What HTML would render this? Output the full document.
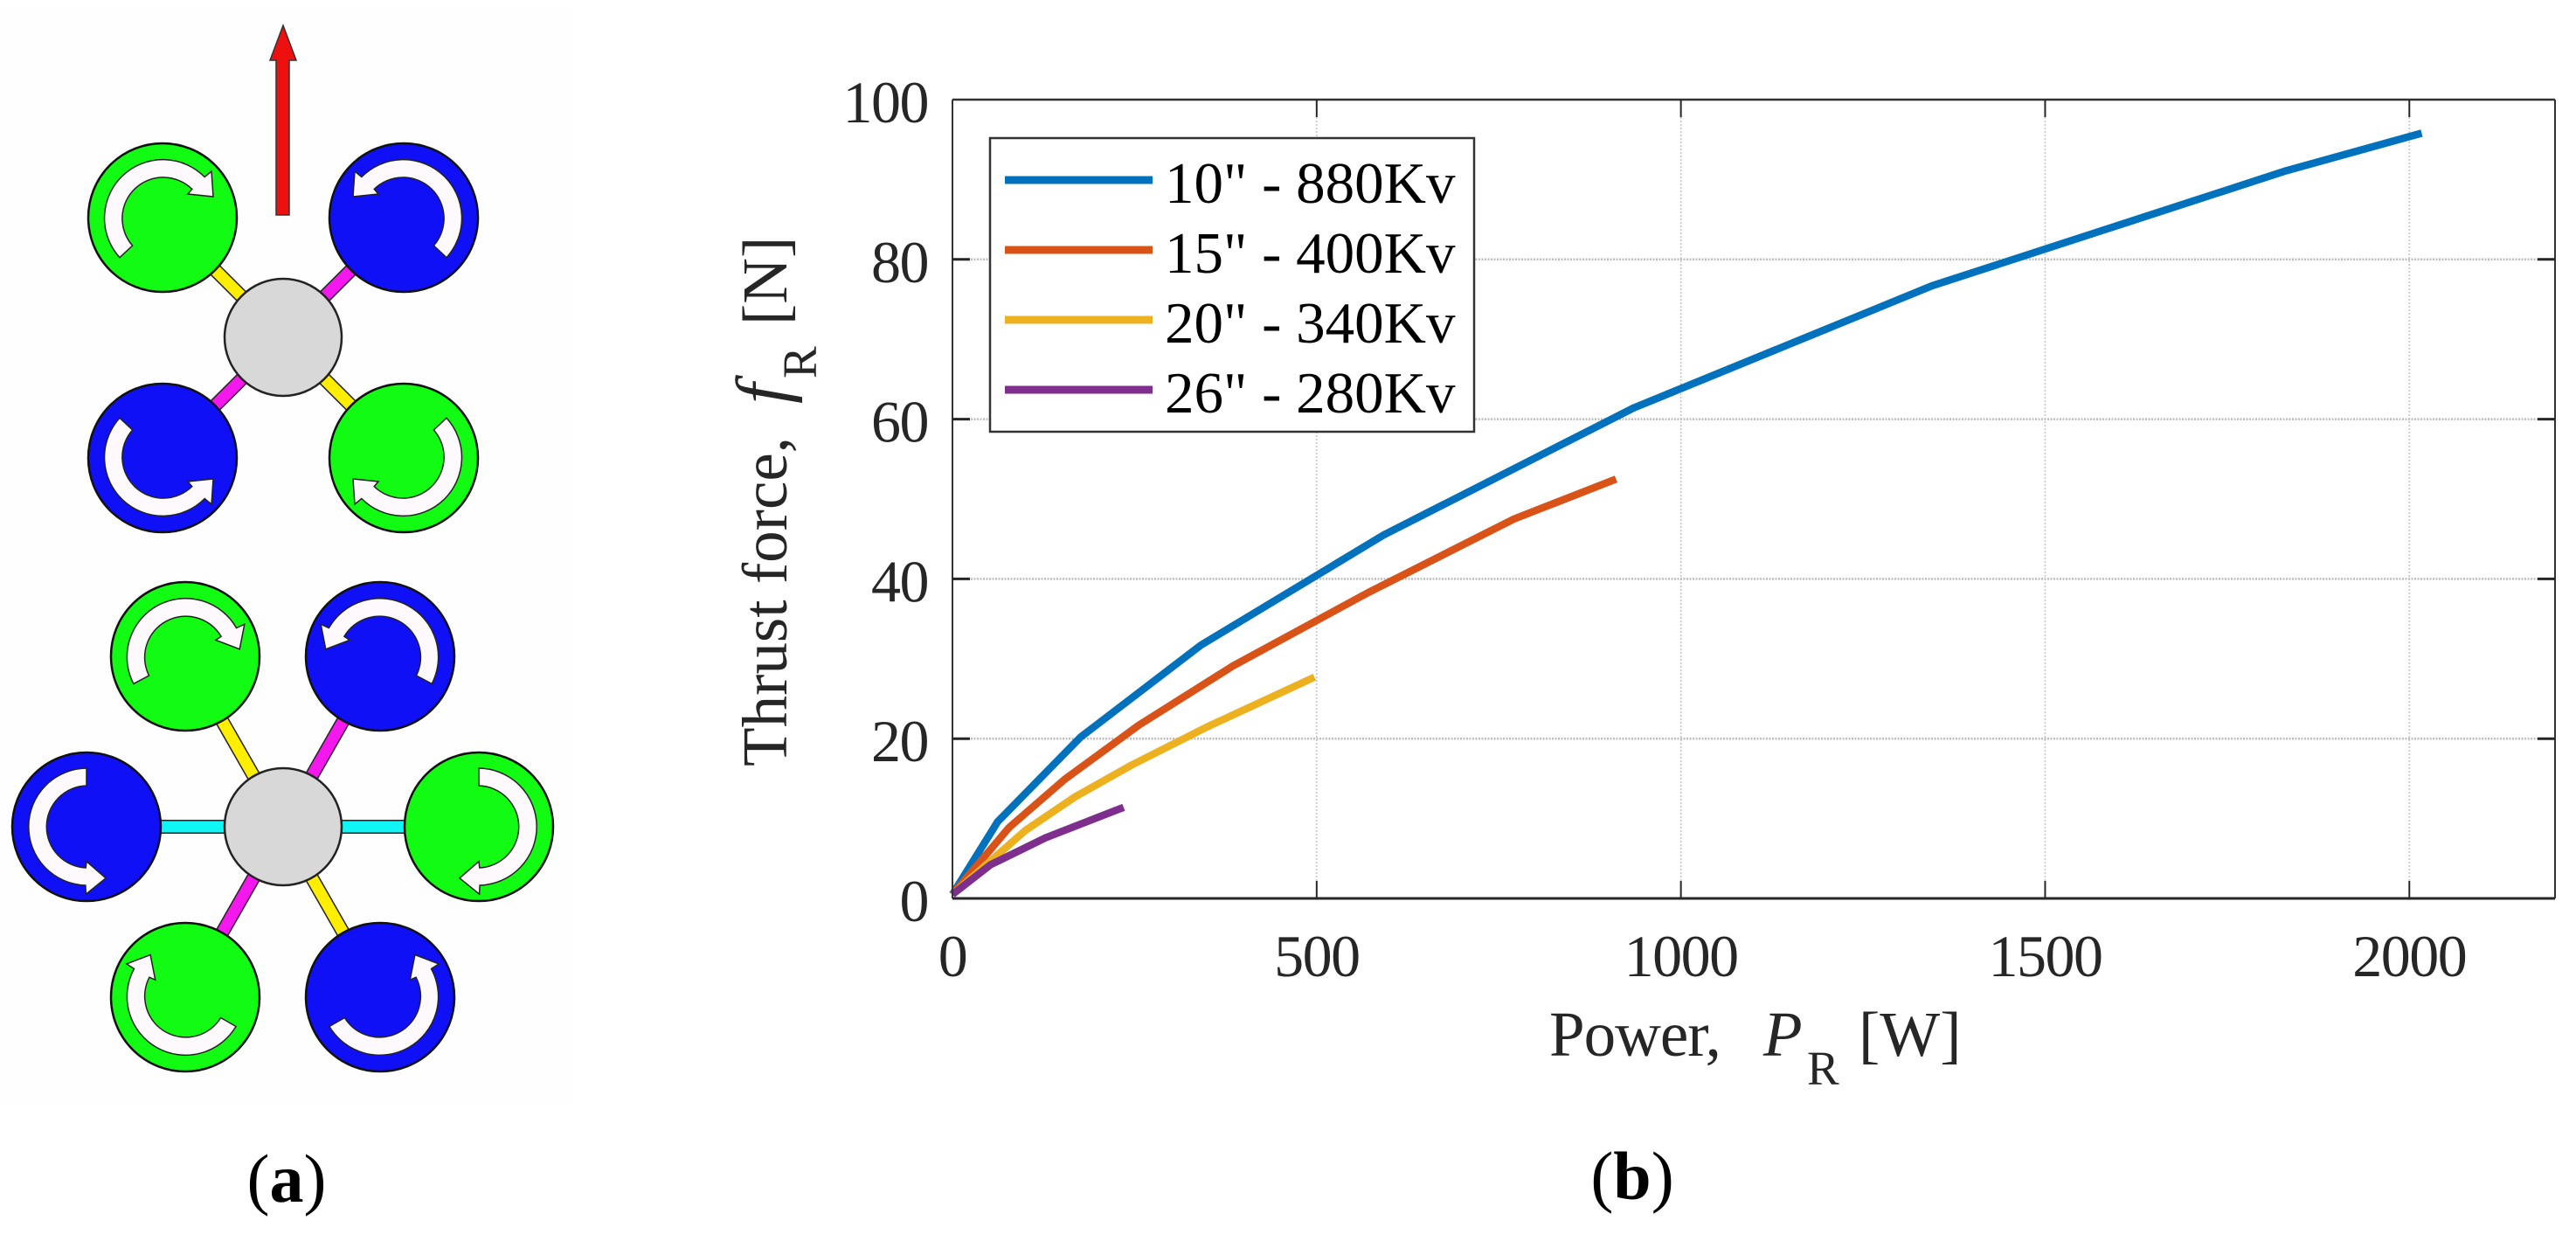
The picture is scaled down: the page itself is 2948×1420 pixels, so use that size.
<!DOCTYPE html>
<html lang="en">
<head>
<meta charset="utf-8">
<title>Multirotor layouts and thrust versus power</title>
<style>
html,body{margin:0;padding:0;background:#fff;}
svg{display:block;font-family:"Liberation Serif",serif;}
</style>
</head>
<body>
<svg id="fig" xmlns="http://www.w3.org/2000/svg" width="2948" height="1420" viewBox="0 0 2948 1420">
  <defs>
    <path id="spin" d="M-49 45.7A67 67 0 0 1 48.2 -46.5L56 -53L58 -24L29 -27L33.8 -32.6A47 47 0 0 0 -34.4 32Z" fill="#fdf9fc" stroke="#222" stroke-width="1.5"/>
  </defs>
  <rect width="2948" height="1420" fill="#fff"/>

  <g id="panel-a">
    <rect x="0" y="10" width="658" height="1252" fill="#fefefe"/>
    <g>
      <path d="M316 246V69H309L324 29L339 69H331V246Z" fill="#ee0f0f" stroke="#333" stroke-width="1.5"/>
    </g>

    <g>
      <g>
        <line x1="186" y1="249" x2="462" y2="524" stroke="#222" stroke-width="16"/>
        <line x1="186" y1="249" x2="462" y2="524" stroke="#ffee00" stroke-width="13"/>
      </g>
      <g>
        <line x1="462" y1="249" x2="186" y2="524" stroke="#222" stroke-width="16"/>
        <line x1="462" y1="249" x2="186" y2="524" stroke="#f518ee" stroke-width="13"/>
      </g>
      <circle cx="324" cy="386" r="67" fill="#d8d8d8" stroke="#222" stroke-width="2.5"/>
      <g transform="translate(186,249)">
        <circle r="85" fill="#12fb12" stroke="#111" stroke-width="2.5"/><use href="#spin"/>
      </g>
      <g transform="translate(462,249)">
        <circle r="85" fill="#0f10f5" stroke="#111" stroke-width="2.5"/><use href="#spin" transform="scale(-1,1)"/>
      </g>
      <g transform="translate(186,524)">
        <circle r="85" fill="#0f10f5" stroke="#111" stroke-width="2.5"/><use href="#spin" transform="scale(1,-1)"/>
      </g>
      <g transform="translate(462,524)">
        <circle r="85" fill="#12fb12" stroke="#111" stroke-width="2.5"/><use href="#spin" transform="scale(-1,-1)"/>
      </g>
    </g>

    <g>
      <g>
        <line x1="99" y1="946" x2="548" y2="946" stroke="#222" stroke-width="16"/>
        <line x1="99" y1="946" x2="548" y2="946" stroke="#10f5f5" stroke-width="13"/>
      </g>
      <g>
        <line x1="212" y1="751" x2="435" y2="1141" stroke="#222" stroke-width="16"/>
        <line x1="212" y1="751" x2="435" y2="1141" stroke="#ffee00" stroke-width="13"/>
      </g>
      <g>
        <line x1="435" y1="751" x2="212" y2="1141" stroke="#222" stroke-width="16"/>
        <line x1="435" y1="751" x2="212" y2="1141" stroke="#f518ee" stroke-width="13"/>
      </g>
      <circle cx="324" cy="946" r="67" fill="#d8d8d8" stroke="#222" stroke-width="2.5"/>
      <g transform="translate(212,751)">
        <circle r="85" fill="#12fb12" stroke="#111" stroke-width="2.5"/><use href="#spin" transform="rotate(15)"/>
      </g>
      <g transform="translate(435,751)">
        <circle r="85" fill="#0f10f5" stroke="#111" stroke-width="2.5"/><use href="#spin" transform="scale(-1,1) rotate(15)"/>
      </g>
      <g transform="translate(99,946)">
        <circle r="85" fill="#0f10f5" stroke="#111" stroke-width="2.5"/><use href="#spin" transform="rotate(-133) scale(-1,1)"/>
      </g>
      <g transform="translate(548,946)">
        <circle r="85" fill="#12fb12" stroke="#111" stroke-width="2.5"/><use href="#spin" transform="rotate(133)"/>
      </g>
      <g transform="translate(212,1141)">
        <circle r="85" fill="#12fb12" stroke="#111" stroke-width="2.5"/><use href="#spin" transform="rotate(-107)"/>
      </g>
      <g transform="translate(435,1141)">
        <circle r="85" fill="#0f10f5" stroke="#111" stroke-width="2.5"/><use href="#spin" transform="scale(-1,1) rotate(-107)"/>
      </g>
    </g>
    <text x="328" y="1375" text-anchor="middle" font-size="78" fill="#000">(<tspan font-weight="bold">a</tspan>)</text>
  </g>

  <g id="chart">
    <g id="grid"></g>
    <g id="series"></g>
    <g id="frame"></g>
    <g id="xticks"></g>
    <g id="yticks"></g>

    <g font-size="73" fill="#262626">
      <text x="1773" y="1208" letter-spacing="-1">Power,</text>
      <text x="2018" y="1208" font-style="italic">P</text>
      <text x="2068" y="1241" font-size="55">R</text>
      <text x="2127" y="1208">[W]</text>
    </g>
    <g font-size="73" fill="#262626">
      <text transform="translate(900,877) rotate(-90)">Thrust force,</text>
      <text transform="translate(900,462) rotate(-90)" font-style="italic" font-size="84">f</text>
      <text transform="translate(934,433) rotate(-90)" font-size="55">R</text>
      <text transform="translate(900,372) rotate(-90)">[N]</text>
    </g>

    <g id="legend">
      <rect x="1133" y="158" width="554" height="336" fill="#fff" stroke="#333" stroke-width="2.5"/>
    </g>
    <text x="1868" y="1372" text-anchor="middle" font-size="78" fill="#000">(<tspan font-weight="bold">b</tspan>)</text>
  </g>
</svg>

<script>
var xTicks = [0, 500, 1000, 1500, 2000];
var yTicks = [0, 20, 40, 60, 80, 100];
var xLimit = [0, 2200];
var yLimit = [0, 100];

var seriesNames = ['10" - 880Kv', '15" - 400Kv', '20" - 340Kv', '26" - 280Kv'];
var seriesColors = ['#0072bd', '#d95319', '#edb120', '#7e2f8e'];

var power10 = [0, 62, 176, 341, 592, 935, 1345, 1831, 2017];
var thrust10 = [0.5, 9.6, 20.2, 31.7, 45.5, 61.4, 76.7, 91.1, 95.8];
var power15 = [0, 78, 154, 256, 385, 571, 771, 911];
var thrust15 = [0.5, 8.9, 14.9, 21.7, 29.1, 38.3, 47.5, 52.5];
var power20 = [0, 100, 168, 246, 348, 497];
var thrust20 = [0.5, 8.5, 12.7, 16.7, 21.4, 27.7];
var power26 = [0, 52, 128, 235];
var thrust26 = [0.5, 4.2, 7.6, 11.4];

var seriesPower = [power10, power15, power20, power26];
var seriesThrust = [thrust10, thrust15, thrust20, thrust26];

var plotLeft = 1090, plotRight = 2924, plotTop = 114, plotBottom = 1028;
var NS = 'http://www.w3.org/2000/svg';

function sx(v) { return plotLeft + (v - xLimit[0]) / (xLimit[1] - xLimit[0]) * (plotRight - plotLeft); }
function sy(v) { return plotBottom - (v - yLimit[0]) / (yLimit[1] - yLimit[0]) * (plotBottom - plotTop); }

function mk(parent, tag, attrs) {
  var el = document.createElementNS(NS, tag);
  for (var k in attrs) { el.setAttribute(k, attrs[k]); }
  parent.appendChild(el);
  return el;
}

var gridG = document.getElementById('grid');
var seriesG = document.getElementById('series');
var frameG = document.getElementById('frame');
var xtG = document.getElementById('xticks');
var ytG = document.getElementById('yticks');
var legendG = document.getElementById('legend');

xTicks.forEach(function (t) {
  var x = sx(t);
  if (t !== 0) {
    var g = mk(gridG, 'line', {x1: x, x2: x, y1: plotTop, y2: plotBottom, stroke: '#c4c4c4', 'stroke-width': 1.5, 'stroke-dasharray': '2 2'});
    
    
    var a = mk(xtG, 'line', {x1: x, x2: x, y1: plotBottom, y2: plotBottom - 20, stroke: '#262626', 'stroke-width': 2});
    
    
    var b = mk(xtG, 'line', {x1: x, x2: x, y1: plotTop, y2: plotTop + 20, stroke: '#262626', 'stroke-width': 2});
    
    
  }
  var lab = mk(xtG, 'text', {x: x, y: 1117, 'text-anchor': 'middle', 'font-size': 68, 'letter-spacing': -1.5, fill: '#262626'});
  lab.textContent = String(t);
  
  
});

yTicks.forEach(function (t) {
  var y = sy(t);
  if (t !== 0 && t !== 100) {
    var g = mk(gridG, 'line', {x1: plotLeft, x2: plotRight, y1: y, y2: y, stroke: '#bdbdbd', 'stroke-width': 2.5, 'stroke-dasharray': '2 1.5'});
    
    
    var a = mk(ytG, 'line', {x1: plotLeft, x2: plotLeft + 20, y1: y, y2: y, stroke: '#262626', 'stroke-width': 3});
    
    
    var b = mk(ytG, 'line', {x1: plotRight, x2: plotRight - 20, y1: y, y2: y, stroke: '#262626', 'stroke-width': 3});
    
    
  }
  var lab = mk(ytG, 'text', {x: 1062, y: y + 26, 'text-anchor': 'end', 'font-size': 68, 'letter-spacing': -1.5, fill: '#262626'});
  lab.textContent = String(t);
  
  
});

var topAxis = mk(frameG, 'line', {x1: plotLeft, x2: plotRight, y1: plotTop, y2: plotTop, stroke: '#333', 'stroke-width': 2.5});


var rightAxis = mk(frameG, 'line', {x1: plotRight, x2: plotRight, y1: plotTop, y2: plotBottom, stroke: '#333', 'stroke-width': 2});


var leftAxis = mk(frameG, 'line', {x1: plotLeft, x2: plotLeft, y1: plotTop, y2: plotBottom, stroke: '#333', 'stroke-width': 2});


var bottomAxis = mk(frameG, 'line', {x1: plotLeft, x2: plotRight, y1: plotBottom, y2: plotBottom, stroke: '#262626', 'stroke-width': 3});



seriesNames.forEach(function (name, i) {
  var pts = seriesPower[i].map(function (p, j) { return sx(p) + ',' + sy(seriesThrust[i][j]); }).join(' ');
  var line = mk(seriesG, 'polyline', {points: pts, fill: 'none', stroke: seriesColors[i], 'stroke-width': 8.5, 'stroke-linejoin': 'round'});
  
  

  var rowY = 206 + i * 80;
  var swatch = mk(legendG, 'line', {x1: 1150, x2: 1319, y1: rowY, y2: rowY, stroke: seriesColors[i], 'stroke-width': 9});
  
  
  var txt = mk(legendG, 'text', {x: 1333, y: rowY + 26, 'font-size': 67, fill: '#000'});
  txt.textContent = name;
  
  
});
</script>
</body>
</html>
